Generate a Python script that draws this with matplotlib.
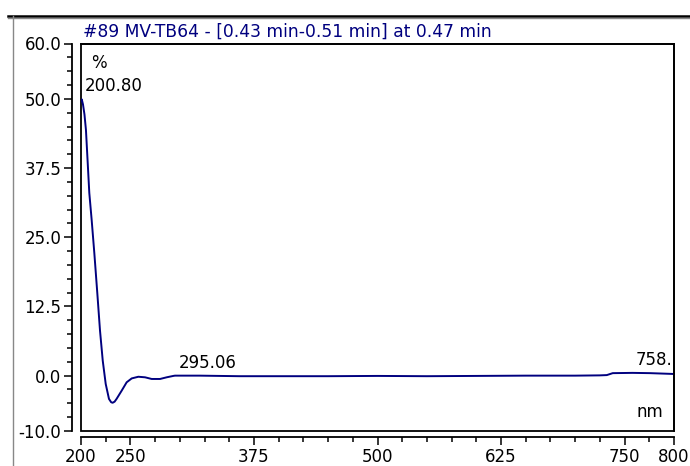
import numpy as np
import matplotlib
matplotlib.use('Agg')
import matplotlib.pyplot as plt
from matplotlib.lines import Line2D
from matplotlib.patches import Rectangle
from matplotlib.ticker import MultipleLocator, FixedLocator

plt.rcParams['font.family'] = ['DejaVu Sans']

# spectrum (nm, %)
wavelength = [200.0, 200.8, 202, 203.5, 205, 206.8, 208.4, 210.8, 213.5, 216.5, 219.2, 222,
              225, 228.3, 230.5, 232, 234, 236, 241.2, 246.2, 251.3, 258, 264.8, 271.5, 280,
              286.7, 293.4, 295.06, 320, 360, 400, 450, 500, 550, 600, 650, 700,
              725, 732, 738, 758, 776, 800]
absorbance = [49.6, 49.9, 49.0, 47.2, 44.4, 38.4, 33.0, 28.1, 22.1, 14.9, 8.2, 2.7,
              -1.5, -4.2, -4.8, -4.9, -4.7, -4.2, -2.7, -1.2, -0.5, -0.2, -0.3, -0.6, -0.6,
              -0.3, -0.05, 0.0, 0.0, -0.1, -0.1, -0.1, -0.05, -0.1, -0.05, 0.0, 0.0,
              0.05, 0.1, 0.45, 0.5, 0.45, 0.3]

y_major = [60.0, 50.0, 37.5, 25.0, 12.5, 0.0, -10.0]
x_major = [200, 250, 375, 500, 625, 750, 800]

title = '#89 MV-TB64 - [0.43 min-0.51 min] at 0.47 min'
navy = '#00007f'

fig = plt.figure(figsize=(6.9, 4.66), dpi=100)
W, H = 690, 466
ax = fig.add_axes([81 / W, (H - 431) / H, (674 - 81) / W, (431 - 43.5) / H])

ax.plot(wavelength, absorbance, color=navy, lw=1.4)
ax.set_xlim(200, 800)
ax.set_ylim(-10, 60)

# axes lines offset from the box
ax.spines['left'].set_position(('outward', 6.5))
ax.spines['bottom'].set_position(('outward', 4.3))
for s in ax.spines.values():
    s.set_linewidth(1.3)
ax.add_patch(Rectangle((0, 0), 1, 1, transform=ax.transAxes, fill=False,
                       lw=1.3, ec='black', clip_on=False))

ax.yaxis.set_major_locator(FixedLocator(y_major))
ax.yaxis.set_minor_locator(MultipleLocator(2.5))
ax.set_yticklabels(['%.1f' % v for v in y_major])
ax.xaxis.set_major_locator(FixedLocator(x_major))
ax.xaxis.set_minor_locator(MultipleLocator(25))
ax.set_xticklabels([str(v) for v in x_major])
ax.tick_params(which='major', length=5.8, width=1.1, labelsize=12, pad=2)
ax.tick_params(which='minor', length=3.3, width=1.1)

fs = 12
ax.text(0.0169, 0.950, '%', transform=ax.transAxes, fontsize=fs, va='center')
ax.text(0.0067, 0.890, '200.80', transform=ax.transAxes, fontsize=fs, va='center')
ax.text(0.165, 0.1755, '295.06', transform=ax.transAxes, fontsize=fs, va='center')
ax.text(0.998, 0.182, '758.', transform=ax.transAxes, fontsize=fs, va='center', ha='right')
ax.text(0.9376, 0.049, 'nm', transform=ax.transAxes, fontsize=fs, va='center')

fig.text(83 / W, 1 - 32 / H, title, color=navy, fontsize=12.3, va='center')

# outer frame
fig.add_artist(Line2D([8 / W, 1], [1 - 15.5 / H] * 2, color='black', lw=1.8))
fig.add_artist(Line2D([8 / W, 1], [1 - 17.5 / H] * 2, color='#888888', lw=1))
fig.add_artist(Line2D([12.5 / W] * 2, [0, 1 - 16 / H], color='#888888', lw=1))

fig.savefig('out.png', dpi=100)
